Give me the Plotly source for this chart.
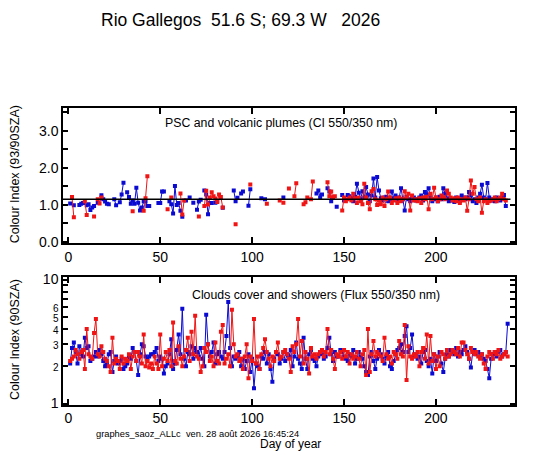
import plotly.graph_objects as go

# the page puts an 8 px margin round the figure
OFF = 8
W, H = 547 - 2 * OFF, 447

# top panel: colour index 93/90 SZA (day of year, value)
ci_blue_day = [1, 3, 6, 7, 8, 10, 11, 12, 13, 14, 16, 18, 19, 20, 21, 22, 25, 26, 28, 29, 30,
               32, 33, 34, 35, 36, 37, 38, 39, 40, 41, 42, 43, 44, 49, 50, 51, 52, 55, 56, 57,
               58, 59, 60, 61, 62, 64, 66, 68, 70, 71, 72, 74, 75, 76, 77, 78, 80, 81, 84, 90,
               91, 92, 94, 95, 98, 99, 105, 107, 117, 135, 136, 137, 138, 141, 142, 143, 144,
               146, 149, 150, 152, 153, 154, 155, 156, 157, 158, 159, 160, 161, 162, 163, 164,
               165, 166, 167, 168, 169, 170, 171, 172, 173, 174, 175, 176, 177, 178, 179, 180,
               181, 182, 183, 184, 185, 186, 187, 188, 189, 190, 191, 192, 193, 194, 195, 196,
               197, 198, 199, 200, 201, 202, 203, 204, 205, 206, 207, 208, 209, 210, 211, 212,
               213, 214, 215, 216, 217, 218, 219, 220, 221, 222, 223, 224, 225, 226, 227, 228,
               229, 230, 231, 232, 233, 234, 235, 236, 237, 238]
ci_blue_val = [1.04, 0.99, 1.0, 1.03, 1.05, 0.99, 1.02, 0.86, 0.93, 0.97, 1.06, 1.26, 1.15, 1.09,
               1.03, 1.02, 1.15, 0.99, 1.07, 1.28, 1.6, 1.34, 1.21, 1.03, 1.12, 1.03, 1.46, 1.06,
               0.85, 0.93, 1.1, 1.09, 0.97, 0.97, 1.05, 1.05, 1.36, 1.36, 1.1, 1.02, 0.77, 1.51,
               1.0, 1.05, 0.84, 0.68, 1.12, 1.2, 1.06, 0.87, 1.09, 1.14, 1.39, 1.28, 0.75, 1.05,
               1.05, 1.06, 1.1, 0.92, 1.39, 1.1, 1.19, 1.31, 1.36, 0.98, 1.42, 1.18, 1.15, 1.2,
               1.31, 1.39, 1.2, 1.28, 1.45, 1.36, 1.1, 1.2, 0.95, 1.27, 1.12, 1.27, 1.23, 1.18,
               1.1, 1.22, 1.57, 1.33, 1.15, 1.37, 1.2, 1.48, 1.28, 1.1, 1.25, 1.71, 1.2, 1.75,
               1.39, 1.18, 1.12, 1.2, 1.22, 1.1, 1.15, 1.36, 1.18, 1.25, 1.12, 1.2, 1.45, 1.15,
               0.85, 1.22, 1.15, 1.1, 1.18, 1.2, 1.12, 1.15, 1.2, 1.25, 1.12, 1.35, 1.28, 1.45,
               1.2, 1.1, 1.15, 1.2, 1.1, 1.22, 1.15, 1.45, 1.3, 1.18, 1.1, 1.15, 1.12, 1.08, 1.2,
               1.15, 1.1, 1.25, 1.2, 1.15, 1.2, 1.35, 1.25, 1.1, 1.15, 1.05, 1.2, 1.3, 1.54, 1.2,
               1.15, 1.59, 1.2, 1.15, 1.12, 1.1, 1.2, 1.15, 1.12, 1.2, 1.27, 0.97]

ci_red_day = [2, 3, 9, 10, 14, 16, 17, 18, 35, 41, 42, 43, 54, 56, 61, 62, 63, 71, 74, 75, 76, 77,
              78, 79, 80, 81, 82, 83, 84, 91, 99, 108, 115, 117, 120, 123, 124, 128, 129, 130,
              132, 133, 141, 142, 143, 144, 145, 149, 150, 151, 152, 153, 154, 155, 156, 157,
              158, 159, 160, 161, 162, 163, 164, 165, 166, 167, 168, 169, 170, 171, 172, 173,
              174, 175, 176, 177, 178, 179, 180, 181, 182, 183, 184, 185, 186, 187, 188, 189,
              190, 191, 192, 193, 194, 195, 196, 197, 198, 199, 200, 201, 202, 203, 204, 205,
              206, 207, 208, 209, 210, 211, 212, 213, 214, 215, 216, 217, 218, 219, 220, 221,
              222, 223, 224, 225, 226, 227, 228, 229, 230, 231, 232, 233, 234, 235, 236, 237, 238]
ci_red_val = [1.21, 0.67, 1.1, 0.73, 0.69, 1.15, 1.04, 1.2, 0.83, 0.84, 1.18, 1.77, 0.88, 1.2,
              1.31, 0.74, 1.12, 0.69, 0.97, 1.38, 1.01, 1.2, 1.34, 1.23, 1.17, 1.08, 1.28, 1.21,
              0.93, 0.48, 1.55, 1.03, 1.12, 1.06, 1.44, 1.23, 1.58, 1.02, 1.07, 1.2, 1.15, 1.63,
              1.61, 1.23, 1.36, 1.2, 1.23, 0.85, 1.2, 1.1, 1.15, 1.2, 1.12, 1.3, 1.18, 1.05, 1.2,
              1.1, 1.02, 1.57, 1.2, 1.05, 0.88, 1.37, 1.43, 1.15, 1.0, 1.12, 1.02, 1.2, 0.97,
              1.15, 1.36, 1.2, 1.05, 1.12, 1.18, 1.05, 1.2, 1.1, 1.15, 1.37, 1.2, 1.3, 0.85, 1.25,
              1.12, 1.15, 1.1, 1.18, 1.05, 1.2, 1.15, 1.22, 0.88, 1.3, 1.15, 1.46, 1.2, 1.1, 1.15,
              1.25, 1.2, 1.15, 1.39, 1.3, 1.2, 1.12, 1.18, 1.1, 1.2, 1.05, 1.15, 1.12, 1.2, 0.84,
              1.15, 1.66, 1.3, 1.48, 1.15, 1.1, 1.2, 0.79, 1.1, 1.15, 1.05, 1.1, 1.12, 1.15, 1.2,
              1.1, 1.15, 1.2, 1.3, 1.15, 1.12]

ci_ref = 1.15

# bottom panel: flux ratio 550/350 nm, one value per day from day 1
flux_blue = [2.1, 2.8, 3.1, 2.6, 2.1, 2.9, 2.5, 2.4, 3.4, 2.8,
             2.9, 2.2, 2.3, 2.4, 2.6, 2.4, 2.7, 2.5, 2.2, 2.0,
             2.1, 2.5, 2.6, 1.8, 2.2, 2.4, 2.1, 2.2, 2.3, 1.9,
             2.0, 2.1, 2.4, 2.3, 2.8, 2.6, 2.2, 1.7, 2.5, 3.0,
             2.9, 2.4, 2.3, 2.4, 2.5, 2.5, 2.6, 2.8, 2.2, 2.4,
             2.3, 1.75, 2.0, 2.1, 2.5, 3.3, 1.9, 2.1, 2.7, 3.6,
             2.5, 5.8, 2.3, 2.0, 2.6, 2.5, 2.9, 2.3, 2.8, 2.6,
             2.4, 2.8, 2.3, 2.0, 5.2, 3.0, 2.4, 2.6, 3.1, 2.1,
             2.5, 2.6, 2.4, 2.3, 2.6, 3.5, 6.6, 2.8, 2.0, 2.4,
             2.3, 2.4, 2.6, 2.0, 2.3, 1.9, 2.2, 2.5, 1.8, 2.3,
             1.33, 2.1, 2.0, 1.9, 2.4, 2.3, 2.6, 2.1, 2.5, 1.9,
             1.5, 2.3, 2.6, 2.5, 2.1, 2.3, 2.6, 2.2, 2.5, 2.4,
             2.7, 2.0, 2.4, 3.1, 2.3, 2.1, 1.9, 3.4, 2.3, 1.9,
             2.5, 2.7, 2.3, 2.2, 2.0, 2.4, 2.6, 2.5, 2.3, 2.4,
             2.8, 3.4, 2.5, 2.2, 2.6, 2.4, 2.4, 2.7, 2.6, 2.4,
             2.3, 2.2, 2.5, 2.4, 2.7, 2.1, 2.3, 2.6, 2.4, 2.3,
             2.0, 1.8, 1.7, 2.4, 2.6, 2.2, 1.9, 2.3, 2.7, 2.5,
             2.3, 2.1, 2.4, 2.6, 2.0, 1.9, 2.2, 2.5, 2.7, 2.8,
             3.0, 2.6, 3.5, 4.2, 2.6, 2.8, 3.6, 2.4, 2.5, 2.3,
             2.4, 2.1, 2.6, 2.7, 2.2, 2.0, 2.3, 1.75, 2.5, 2.2,
             2.4, 2.6, 2.1, 1.8, 2.3, 2.5, 2.4, 2.7, 2.6, 2.5,
             2.8, 2.4, 2.6, 2.5, 2.7, 2.9, 2.6, 2.3, 1.95, 2.6,
             2.7, 2.5, 2.6, 2.4, 2.5, 2.3, 2.2, 1.9, 1.6, 2.3,
             2.5, 2.6, 2.4, 2.6, 2.7, 2.4, 2.5, 2.6, 4.4]
flux_red = [2.2, 2.3, 2.4, 2.7, 2.5, 2.3, 2.6, 2.7, 1.9, 4.0,
            2.5, 2.4, 2.3, 3.7, 4.8, 2.5, 2.4, 2.9, 2.6, 2.3,
            2.2, 2.0, 1.8, 3.4, 2.1, 2.3, 2.2, 1.9, 2.4, 2.1,
            2.3, 2.2, 2.5, 1.9, 2.4, 2.6, 2.2, 2.6, 2.4, 2.1,
            3.6, 2.0, 2.2, 1.95, 2.1, 1.9, 2.4, 2.1, 1.9, 3.6,
            2.0, 2.3, 2.6, 2.2, 2.7, 2.0, 4.5, 2.2, 2.1, 2.9,
            2.3, 2.0, 2.4, 2.7, 3.4, 2.2, 3.8, 2.5, 5.1, 2.4,
            2.3, 1.8, 2.0, 2.8, 2.6, 3.0, 2.2, 2.4, 2.0, 3.1,
            2.2, 2.1, 3.8, 4.3, 2.1, 2.3, 2.5, 2.0, 5.7, 3.0,
            2.4, 2.5, 2.2, 2.3, 1.9, 2.4, 3.0, 1.6, 2.4, 2.2,
            4.8, 2.1, 2.4, 1.9, 2.5, 2.8, 3.3, 2.6, 2.3, 2.0,
            2.4, 2.2, 2.6, 3.1, 2.3, 2.4, 2.6, 2.7, 2.5, 2.3,
            1.8, 2.9, 2.6, 3.0, 4.8, 2.4, 3.2, 2.1, 2.6, 2.3,
            1.75, 2.8, 2.4, 2.5, 2.3, 2.5, 2.6, 2.7, 2.4, 2.6,
            4.0, 2.5, 2.7, 2.3, 1.9, 2.5, 2.4, 2.6, 2.3, 2.7,
            2.4, 2.6, 2.1, 2.5, 2.3, 2.4, 2.6, 2.3, 2.0, 2.5,
            2.7, 1.7, 4.0, 1.8, 2.5, 3.2, 2.4, 2.6, 2.5, 2.4,
            2.2, 3.4, 2.5, 2.3, 2.4, 2.1, 2.6, 2.5, 2.3, 3.2,
            2.5, 2.4, 4.3, 1.55, 2.9, 2.4, 2.3, 2.5, 2.4, 2.6,
            2.0, 2.6, 2.8, 2.3, 3.6, 2.1, 3.5, 2.2, 2.5, 1.9,
            2.4, 2.0, 2.6, 2.5, 2.3, 2.7, 2.4, 2.5, 2.7, 2.6,
            2.5, 2.8, 2.4, 3.1, 3.1, 2.7, 2.5, 2.3, 2.8, 2.6,
            2.5, 2.6, 2.4, 2.3, 2.5, 2.1, 1.9, 2.4, 2.6, 2.5,
            2.3, 2.6, 2.5, 2.7, 2.3, 2.4, 2.5, 2.6, 2.4]
flux_day = list(range(1, len(flux_blue) + 1))

x_ticks = [0, 50, 100, 150, 200]
ci_ticks = [0, 0.5, 1, 1.5, 2, 2.5, 3, 3.5]
ci_labels = ["0.0", "", "1.0", "", "2.0", "", "3.0", ""]
flux_ticks = [1, 2, 3, 4, 5, 6, 7, 8, 9, 10]
small = '<span style="font-size:10px">%s</span>'
flux_labels = ["1", small % "2", small % "3", small % "4", small % "5", small % "6", "", "", "", "10"]

BLUE = "#0a0ad2"
RED = "#f01414"


def with_gaps(days, vals):
    # break the line where days are missing
    xs, ys = [], []
    for i, (d, v) in enumerate(zip(days, vals)):
        if i > 0 and d - days[i - 1] > 1:
            xs.append(None)
            ys.append(None)
        xs.append(d)
        ys.append(v)
    return xs, ys


# positions below are given in screenshot pixels
def px_x(p):
    return (p - OFF) / W


def px_y(p):
    page = (p - 4.6) / 0.973  # the shot comes out slightly squeezed vertically
    return 1 - (page - OFF) / H


fig = go.Figure()

for days, vals, col in [(ci_blue_day, ci_blue_val, BLUE), (ci_red_day, ci_red_val, RED)]:
    xs, ys = with_gaps(days, vals)
    fig.add_trace(go.Scatter(x=xs, y=ys, mode="lines+markers", xaxis="x", yaxis="y",
                             line=dict(color=col, width=1),
                             marker=dict(symbol="square", size=4, color=col),
                             showlegend=False))

for vals, col in [(flux_blue, BLUE), (flux_red, RED)]:
    fig.add_trace(go.Scatter(x=flux_day, y=vals, mode="lines+markers", xaxis="x2", yaxis="y2",
                             line=dict(color=col, width=1),
                             marker=dict(symbol="square", size=4, color=col),
                             showlegend=False))

# reference line in the top panel
fig.add_shape(type="line", xref="x domain", yref="y", x0=0, x1=0.99, y0=ci_ref, y1=ci_ref,
              line=dict(color="black", width=1.5))

axis_font = dict(family="Arial, Liberation Sans", size=14, color="black")
common = dict(showline=True, linecolor="black", linewidth=1.5, mirror="ticks",
              ticks="inside", tickcolor="black", tickwidth=1.5, showgrid=False,
              zeroline=False, tickfont=axis_font)

xdom = [px_x(63), px_x(515)]
fig.update_layout(
    width=W, height=H,
    margin=dict(l=0, r=0, t=0, b=0),
    paper_bgcolor="white", plot_bgcolor="white",
    xaxis=dict(domain=xdom, range=[-2.9, 243], tickvals=x_ticks, ticklen=6,
               anchor="y", **common),
    yaxis=dict(domain=[px_y(242), px_y(107)], range=[-0.03, 3.6], tickvals=ci_ticks,
               ticktext=ci_labels, ticklen=5, anchor="x", **common),
    xaxis2=dict(domain=xdom, range=[-2.9, 243], tickvals=x_ticks, ticklen=6,
                anchor="y2", **common),
    yaxis2=dict(domain=[px_y(404), px_y(276)], type="log", range=[-0.01, 1.02],
                tickvals=flux_ticks, ticktext=flux_labels, ticklen=5, anchor="x2", **common),
)

txt = dict(family="Arial, Liberation Sans", color="black")
nb = "\u00a0"
notes = [
    (240, 18, "Rio Gallegos" + nb * 2 + "51.6 S; 69.3 W" + nb * 3 + "2026", 17.5, "center", 0),
    (163, 122, "PSC and volcanic plumes (CI 550/350 nm)", 12.3, "left", 0),
    (190, 294, "Clouds cover and showers (Flux 550/350 nm)", 12.3, "left", 0),
    (94, 433, "graphes_saoz_ALLc" + nb * 2 + "ven. 28 août 2026 16:45:24", 9.3, "left", 0),
    (290, 443, "Day of year", 12, "center", 0),
    (15, 173, "Colour Index (93/90SZA)", 12.5, "center", -90),
    (15, 339, "Colour Index (90SZA)", 12.5, "center", -90),
]
for x, y, text, size, align, ang in notes:
    fig.add_annotation(x=px_x(x), y=px_y(y), xref="paper", yref="paper", text=text,
                       showarrow=False, xanchor=align, yanchor="middle", textangle=ang,
                       font=dict(size=size, **txt))

fig.write_html("out.html")
